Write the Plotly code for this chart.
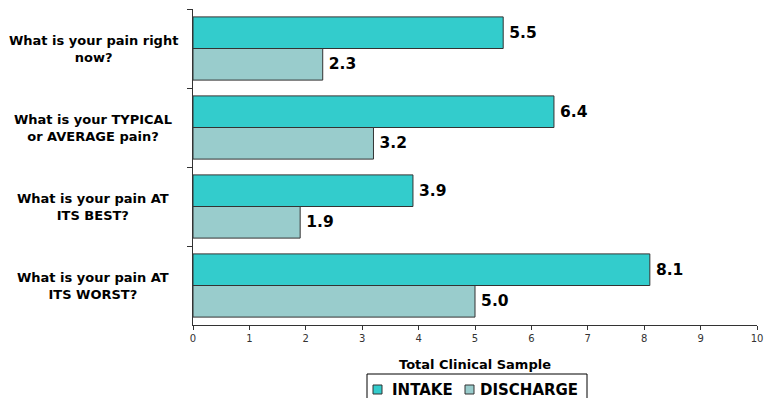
import plotly.graph_objects as go

# Pain ratings, intake vs discharge
questions = [
    "What is your pain right<br>now?",
    "What is your TYPICAL<br>or AVERAGE pain?",
    "What is your pain AT<br>ITS BEST?",
    "What is your pain AT<br>ITS WORST?",
]
intake = [5.5, 6.4, 3.9, 8.1]
discharge = [2.3, 3.2, 1.9, 5.0]
x_ticks = list(range(0, 11))
series_names = ["INTAKE", "DISCHARGE"]
series_colors = ["#33CCCC", "#99CCCC"]

W, H = 764, 398
M = dict(l=193, r=7, t=9, b=73)
PW, PH = W - M["l"] - M["r"], H - M["t"] - M["b"]


def px_x(px):
    """Canvas pixel column -> paper x."""
    return (px - M["l"]) / PW


def px_y(py):
    """Canvas pixel row -> paper y."""
    return (H - M["b"] - py) / PH


FONT = "DejaVu Sans"
OUTLINE = "#333333"
value_font = dict(family=FONT, size=15.5, color="#000000", weight="bold")

fig = go.Figure()
for name, vals, col in zip(series_names, [intake, discharge], series_colors):
    fig.add_trace(go.Bar(
        name=name, y=questions, x=vals, orientation="h",
        marker=dict(color=col, line=dict(color=OUTLINE, width=1)),
        text=[f"\u2009{v:.1f}" for v in vals], textposition="outside",
        textfont=value_font, cliponaxis=False, showlegend=False,
    ))

# Category labels, centred in the left margin
for q in questions:
    fig.add_annotation(
        x=px_x(93), xref="paper", y=q, yref="y", text=q, showarrow=False,
        xanchor="center", yanchor="middle", align="center",
        font=dict(family=FONT, size=13, color="#000000", weight="bold"),
    )

# Boxed key below the axis title
fig.add_shape(type="rect", xref="paper", yref="paper",
              x0=px_x(367), x1=px_x(587), y0=px_y(374), y1=px_y(402),
              line=dict(color="#000000", width=1), fillcolor="white")
key_items = [(373, 390), (465, 478)]
for (sq_x, txt_x), name, col in zip(key_items, series_names, series_colors):
    fig.add_shape(type="rect", xref="paper", yref="paper",
                  x0=px_x(sq_x), x1=px_x(sq_x + 9),
                  y0=px_y(385), y1=px_y(394),
                  line=dict(color=OUTLINE, width=1), fillcolor=col)
    fig.add_annotation(
        x=px_x(txt_x), xref="paper", y=px_y(389.5), yref="paper",
        text=name, showarrow=False, xanchor="left", yanchor="middle",
        font=dict(family=FONT, size=15, color="#000000", weight="bold"),
    )

fig.update_layout(
    width=W, height=H,
    margin=M,
    paper_bgcolor="white", plot_bgcolor="white",
    barmode="group", bargap=0.2, bargroupgap=0,
    font=dict(family=FONT, color="#000000"),
    showlegend=False,
    xaxis=dict(
        range=[0, 10], tickvals=x_ticks, showgrid=False, zeroline=False,
        showline=True, linecolor=OUTLINE, linewidth=1,
        ticks="outside", ticklen=4, tickcolor=OUTLINE,
        tickfont=dict(family=FONT, size=10, color="#333333"),
        title=dict(text="Total Clinical Sample", standoff=16,
                   font=dict(family=FONT, size=13, color="#000000",
                             weight="bold")),
        automargin=False,
    ),
    yaxis=dict(
        autorange="reversed", showgrid=False, showline=True,
        linecolor=OUTLINE, linewidth=1,
        ticks="outside", ticklen=5, tickcolor=OUTLINE, tickson="boundaries",
        showticklabels=False, automargin=False,
    ),
)

fig.write_html("out.html")
